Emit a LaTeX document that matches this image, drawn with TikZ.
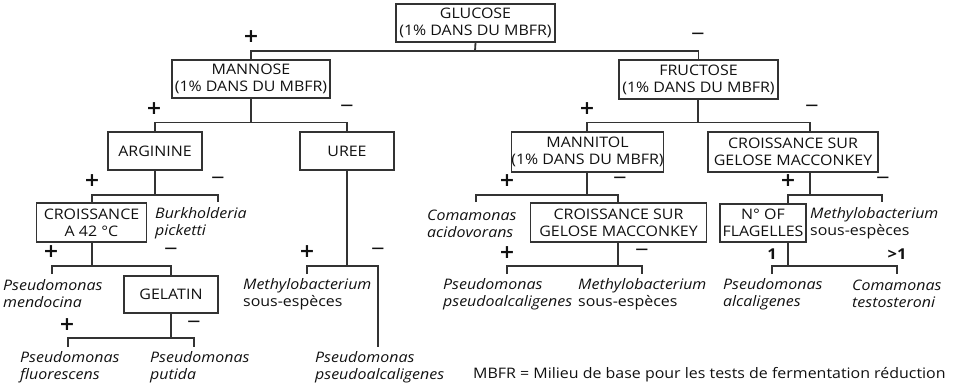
\documentclass[tikz,border=0pt]{standalone}
\usepackage{fontspec}
\setmainfont{Open Sans}[FakeStretch=1.1]
\newfontfamily\signfont{DejaVu Sans}
\usetikzlibrary{calc}
\definecolor{linec}{HTML}{333333}
\definecolor{txt}{HTML}{111111}
\begin{document}
\begin{tikzpicture}[x=1pt,y=-1pt,
  every node/.style={text=txt},
  box/.style={draw=linec, line width=1.2pt, inner sep=0pt, align=center,
    font=\fontsize{14.5}{17}\selectfont},
  conn/.style={draw=linec, line width=1.8pt},
  leaf/.style={anchor=west, align=left, inner sep=0pt, font=\fontsize{14.5}{17}\selectfont},
  plus/.style={inner sep=0pt, font=\signfont\fontsize{19}{19}\selectfont\bfseries},
  minus/.style={inner sep=0pt, font=\signfont\fontsize{18}{18}\selectfont},
  num/.style={inner sep=0pt, font=\fontsize{15}{15}\selectfont\bfseries}]
\useasboundingbox (0,0) rectangle (958,388);

% boxes
\node[box, minimum width=159pt, minimum height=38pt] (glucose) at (475.5,23) {GLUCOSE\\(1\% DANS DU MBFR)};
\node[box, minimum width=158pt, minimum height=38pt] (mannose) at (251,79) {MANNOSE\\(1\% DANS DU MBFR)};
\node[box, minimum width=159pt, minimum height=39pt] (fructose) at (698.5,79.5) {FRUCTOSE\\(1\% DANS DU MBFR)};
\node[box, minimum width=94pt, minimum height=38pt] (arginine) at (155,151) {ARGININE};
\node[box, minimum width=94pt, minimum height=38pt] (uree) at (347,151) {UREE};
\node[box, minimum width=150pt, minimum height=40pt] (mannitol) at (587.5,152) {MANNITOL\\(1\% DANS DU MBFR)};
\node[box, minimum width=170pt, minimum height=40pt] (croissR) at (793,152) {CROISSANCE SUR\\GELOSE MACCONKEY};
\node[box, minimum width=110pt, minimum height=39pt] (croissA) at (91.5,222.5) {CROISSANCE\\A 42 °C};
\node[box, minimum width=176pt, minimum height=39pt] (croissL) at (618.5,222.5) {CROISSANCE SUR\\GELOSE MACCONKEY};
\node[box, minimum width=86pt, minimum height=38pt] (flag) at (763,223) {N° OF\\FLAGELLES};
\node[box, minimum width=94pt, minimum height=37pt] (gelatin) at (171,294.5) {GELATIN};

% leaves
\node[leaf] (burk) at (155,223.5) {\itshape Burkholderia\\\itshape picketti};
\node[leaf] (mendo) at (3,294) {\itshape Pseudomonas\\\itshape mendocina};
\node[leaf] (methyL) at (243,294) {\itshape Methylobacterium\\sous-espèces};
\node[leaf] (fluo) at (20,367.5) {\itshape Pseudomonas\\\itshape fluorescens};
\node[leaf] (putida) at (150,367.5) {\itshape Pseudomonas\\\itshape putida};
\node[leaf] (pseudoL) at (315,367.5) {\itshape Pseudomonas\\\itshape pseudoalcaligenes};
\node[leaf] (coma) at (427,223.5) {\itshape Comamonas\\\itshape acidovorans};
\node[leaf] (pseudoR) at (443,294) {\itshape Pseudomonas\\\itshape pseudoalcaligenes};
\node[leaf] (methyM) at (578,294) {\itshape Methylobacterium\\sous-espèces};
\node[leaf] (methyR) at (810,223.5) {\itshape Methylobacterium\\sous-espèces};
\node[leaf] (alca) at (723,294) {\itshape Pseudomonas\\\itshape alcaligenes};
\node[leaf] (testo) at (852,294) {\itshape Comamonas\\\itshape testosteroni};
\node[leaf] (note) at (473,375) {MBFR = Milieu de base pour les tests de fermentation réduction};

% fork coordinates
\coordinate (h1) at (475,51);
\coordinate (h2) at (251,122.5);
\coordinate (h3) at (698,122.5);
\coordinate (h4) at (155,195);
\coordinate (h5) at (347,266);
\coordinate (h6) at (587,195);
\coordinate (h7) at (810,195);
\coordinate (h8) at (92,266);
\coordinate (h9) at (618,266);
\coordinate (h10) at (788,266);
\coordinate (h11) at (171,338);
\coordinate (t4) at (218,202);
\coordinate (t5a) at (307,274);
\coordinate (t5b) at (378,347);
\coordinate (t6) at (476,202);
\coordinate (t7) at (882,202);
\coordinate (t8) at (52,274);
\coordinate (t9a) at (507,274);
\coordinate (t9b) at (642,274);
\coordinate (t10a) at (772,274);
\coordinate (t10b) at (897,274);
\coordinate (t11a) at (68,347);
\coordinate (t11b) at (194,347);

% connectors
\draw[conn] (glucose.south) -- (h1);
\draw[conn] (mannose.north) |- (h1) -| (fructose.north);
\draw[conn] (mannose.south) -- (h2);
\draw[conn] (arginine.north) |- (h2) -| (uree.north);
\draw[conn] (fructose.south -| h3) -- (h3);
\draw[conn] (mannitol.north -| h6) |- (h3) -| (croissR.north -| h7);
\draw[conn] (arginine.south) -- (h4);
\draw[conn] (croissA.north -| h8) |- (h4) -| (t4);
\draw[conn] (uree.south) -- (h5);
\draw[conn] (t5a) |- (h5) -| (t5b);
\draw[conn] (mannitol.south -| h6) -- (h6);
\draw[conn] (t6) |- (h6) -| (croissL.north -| h9);
\draw[conn] (croissR.south -| h7) -- (h7);
\draw[conn] (flag.north -| h10) |- (h7) -| (t7);
\draw[conn] (croissA.south -| h8) -- (h8);
\draw[conn] (t8) |- (h8) -| (gelatin.north);
\draw[conn] (croissL.south -| h9) -- (h9);
\draw[conn] (t9a) |- (h9) -| (t9b);
\draw[conn] (flag.south -| h10) -- (h10);
\draw[conn] (t10a) |- (h10) -| (t10b);
\draw[conn] (gelatin.south) -- (h11);
\draw[conn] (t11a) |- (h11) -| (t11b);

% labels
\node[plus] (p1) at (251,37) {+};
\node[minus] (m1) at (698,36) {−};
\node[plus] (p2) at (154,109) {+};
\node[minus] (m2) at (347,108) {−};
\node[plus] (p3) at (587,109) {+};
\node[minus] (m3) at (812,108) {−};
\node[plus] (p4) at (92,181) {+};
\node[minus] (m4) at (218,180) {−};
\node[plus] (p5) at (307,252) {+};
\node[minus] (m5) at (378,251) {−};
\node[plus] (p6) at (507,181) {+};
\node[minus] (m6) at (620,180) {−};
\node[plus] (p7) at (788,181) {+};
\node[minus] (m7) at (883,180) {−};
\node[plus] (p8) at (51,252) {+};
\node[minus] (m8) at (171,251) {−};
\node[plus] (p9) at (507,253) {+};
\node[minus] (m9) at (642,252) {−};
\node[num] (n1) at (772,254) {1};
\node[num] (n2) at (897,254) {>1};
\node[plus] (p11) at (67,325) {+};
\node[minus] (m11) at (194,324) {−};
\end{tikzpicture}
\end{document}
